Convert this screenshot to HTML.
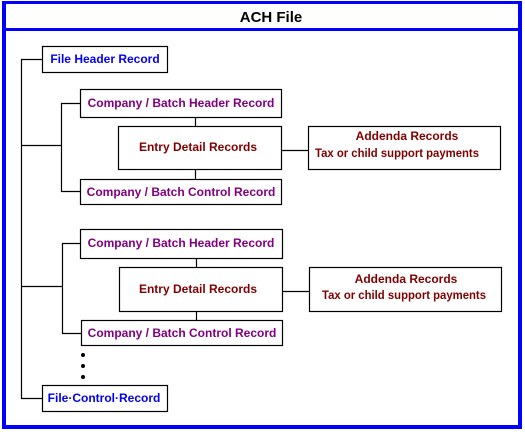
<!DOCTYPE html>
<html><head><style>
body{margin:0;background:#fff;}
svg text{font-family:"Liberation Sans",Arial,sans-serif;font-weight:bold;font-size:12px;}
</style></head><body>
<svg width="525" height="432" xmlns="http://www.w3.org/2000/svg">
<g fill="#0000ff">
<rect x="2" y="1" width="520" height="3"/>
<rect x="2" y="28" width="520" height="3"/>
<rect x="2" y="1" width="4" height="428"/>
<rect x="518" y="1" width="4" height="428"/>
<rect x="2" y="425" width="520" height="4"/>
</g>
<text x="271" y="22" text-anchor="middle" style="font-size:15px">ACH File</text>
<g stroke="#000" stroke-width="1.2" fill="none">
<path d="M42 59.5H21.5V398.5H42"/>
<path d="M21.5 145.5H61.5M80 103.5H61.5V191.5H80"/>
<path d="M21.5 286.5H62.5M80 243.5H62.5V333.5H81"/>
<path d="M195.5 117V126M195.5 169V179M281 150.5H308"/>
<path d="M196.5 258V267M196.5 311V320M282 291.5H309"/>
<rect x="42.5" y="46.5" width="125" height="26" fill="#fff"/>
<rect x="80.5" y="89.5" width="201" height="28" fill="#fff"/>
<rect x="118.5" y="126.5" width="163" height="43" fill="#fff"/>
<rect x="308.5" y="126.5" width="192" height="43" fill="#fff"/>
<rect x="80.5" y="179.5" width="201" height="25" fill="#fff"/>
<rect x="80.5" y="229.5" width="202" height="29" fill="#fff"/>
<rect x="119.5" y="267.5" width="163" height="44" fill="#fff"/>
<rect x="309.5" y="267.5" width="192" height="44" fill="#fff"/>
<rect x="81.5" y="320.5" width="201" height="25" fill="#fff"/>
<rect x="42.5" y="385.5" width="125" height="26" fill="#fff"/>
</g>
<g fill="#000"><circle cx="83" cy="355" r="2"/><circle cx="83" cy="366" r="2"/><circle cx="83" cy="377" r="2"/></g>
<g text-anchor="middle">
<text x="105" y="63" fill="#0000ee">File Header Record</text>
<text x="181" y="107" fill="#800080">Company / Batch Header Record</text>
<text x="198" y="151" fill="#800000">Entry Detail Records</text>
<text x="407" y="140" fill="#800000">Addenda Records</text>
<text x="181" y="196" fill="#800080">Company / Batch Control Record</text>
<text x="181" y="247" fill="#800080">Company / Batch Header Record</text>
<text x="198" y="293" fill="#800000">Entry Detail Records</text>
<text x="406" y="283" fill="#800000">Addenda Records</text>
<text x="182" y="337" fill="#800080">Company / Batch Control Record</text>
<text x="104" y="402" fill="#0000ee">File·Control·Record</text>
</g>
<text x="315" y="157" fill="#800000" textLength="164" lengthAdjust="spacingAndGlyphs">Tax or child support payments</text>
<text x="322" y="299" fill="#800000" textLength="164" lengthAdjust="spacingAndGlyphs">Tax or child support payments</text>
</svg>
</body></html>
